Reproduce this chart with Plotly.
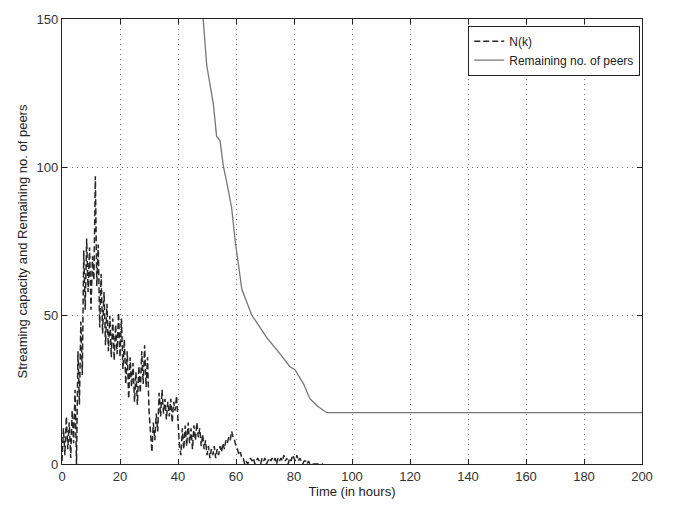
import plotly.graph_objects as go

n_k = [
    1, 12, 3, 16, 5, 14, 2, 18, 7, 25,
    0, 38, 20, 48, 30, 72, 52, 76, 58, 73,
    52, 70, 62, 97, 60, 74, 46, 64, 44, 58,
    40, 54, 38, 50, 36, 49, 35, 47, 37, 51,
    36, 49, 32, 42, 27, 38, 22, 36, 26, 34,
    21, 31, 20, 33, 24, 38, 27, 40, 26, 36,
    18, 10, 4, 14, 8, 17, 11, 24, 16, 25,
    17, 22, 15, 21, 16, 22, 14, 21, 18, 23,
    13, 6, 3, 12, 5, 13, 6, 14, 7, 12,
    5, 13, 8, 14, 9, 12, 6, 10, 5, 8,
    3, 6, 2, 5, 3, 6, 2, 5, 3, 6,
    4, 7, 5, 8, 7, 9, 8, 11, 9, 8,
    6, 5, 3, 4, 2, 2, 0, 1, 0, 1,
    2, 1, 2, 0, 1, 2, 1, 0, 2, 1,
    2, 0, 1, 2, 1, 2, 1, 2, 0, 2,
    1, 2, 1, 3, 1, 2, 0, 2, 1, 3,
    2, 1, 3, 1, 2, 1, 0, 1, 1, 0,
    1, 0, 0, 0, 0, 0, 0, 0, 0, 0,
    0,
]
n_k_time = [i * 0.5 for i in range(len(n_k))]

# Remaining number of peers
rem_time = [47.9, 48.7, 49.9, 52.2, 53.3, 54.5, 55.6, 56.8, 58.5, 59.7, 60.8, 62.0,
            63.7, 65.4, 67.7, 70.6, 75.2, 78.6, 80.3, 83.2, 85.5, 87.8, 91.3, 200]
rem_vals = [160, 150, 134.4, 121.3, 110.5, 109, 100.6, 95, 86.3, 75.4, 66.6, 59,
            54.6, 50.2, 46.9, 42.6, 37.1, 32.8, 31.8, 27.2, 22, 19.7, 17.3, 17.3]

x_ticks = [0, 20, 40, 60, 80, 100, 120, 140, 160, 180, 200]
y_ticks = [0, 50, 100, 150]

FONT = "Liberation Sans, Arial, sans-serif"

fig = go.Figure()
fig.add_trace(go.Scatter(
    x=n_k_time, y=n_k, mode="lines", name="N(k)",
    line=dict(color="#262626", width=1.5, dash="6px,3px"),
))
fig.add_trace(go.Scatter(
    x=rem_time, y=rem_vals, mode="lines", name="Remaining no. of peers",
    line=dict(color="#767676", width=1.3),
))

axis_common = dict(
    showline=True, linecolor="#222", linewidth=1.2, mirror="ticks",
    ticks="inside", ticklen=5, tickcolor="#222",
    showgrid=True, gridcolor="#777", griddash="1px,4px", gridwidth=1,
    zeroline=False,
    tickfont=dict(family=FONT, size=13, color="#333"),
    title_font=dict(family=FONT, size=13, color="#222"),
)

fig.update_xaxes(range=[0, 200], tickvals=x_ticks, title_text="Time (in hours)",
                 title_standoff=3, **axis_common)
fig.update_yaxes(range=[0, 150], tickvals=y_ticks,
                 title_text="Streaming capacity and Remaining no. of peers",
                 title_standoff=6, **axis_common)

fig.update_layout(
    width=675, height=508,
    margin=dict(l=62, r=33, t=12, b=38),
    plot_bgcolor="white", paper_bgcolor="white",
    showlegend=True,
    legend=dict(
        x=0.997, y=0.985, xanchor="right", yanchor="top",
        bgcolor="white", bordercolor="#222", borderwidth=1,
        font=dict(family=FONT, size=12, color="#222"),
        itemwidth=30, tracegroupgap=0,
    ),
)

fig.write_html("out.html")
